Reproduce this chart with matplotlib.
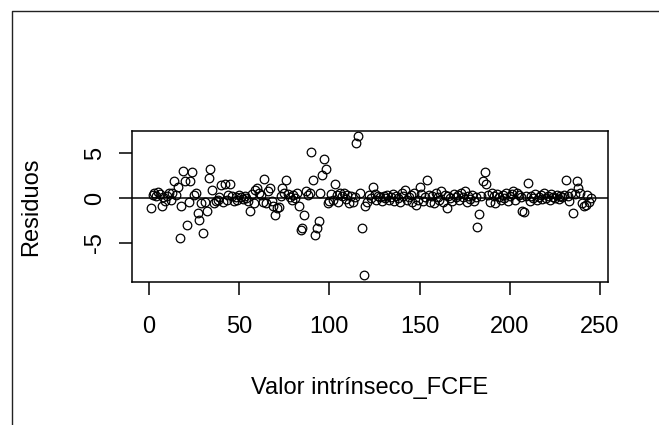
import numpy as np
import matplotlib.pyplot as plt
from matplotlib.lines import Line2D

plt.rcParams['font.family'] = ['Liberation Sans', 'DejaVu Sans']

# residuos, indice 1..245
residuos = [
    -1.1, 0.3, 0.6, 0.2, 0.7, 0.4, -0.9, 0.1, -0.3, 0.2,
    0.5, -0.2, 0.6, 1.9, 0.3, 1.2, -4.4, -0.85, 3.0, 1.85,
    -3.0, -0.4, 1.85, 2.9, 0.3, 0.55, -1.7, -2.4, -0.6, -3.9,
    -0.5, -1.4, 2.2, 3.2, 0.9, -0.6, -0.3, -0.2, 0.1, 1.4,
    -0.4, 1.6, -0.2, 0.3, 1.55, 0.2, -0.3, 0.1, -0.2, 0.3,
    0.1, -0.1, 0.2, 0.0, -0.3, -1.4, 0.4, -0.6, 0.9, 1.1,
    0.5, 0.3, -0.4, 2.1, -0.6, 0.8, 1.1, -0.3, -0.9, -1.9,
    -1.1, -1.0, 0.2, 1.1, 0.6, 1.95, 0.4, 0.1, -0.2, 0.3,
    0.0, 0.5, -0.9, -3.5, -3.3, -1.9, 0.8, 0.3, 0.6, 5.1,
    2.0, -4.1, -3.3, -2.6, 0.6, 2.5, 4.3, 3.2, -0.6, -0.3,
    0.4, -0.2, 1.5, 0.3, -0.5, 0.6, 0.2, 0.5, -0.1, 0.3,
    -0.6, 0.2, -0.4, 0.1, 6.1, 6.9, 0.6, -3.3, -8.6, -0.9,
    -0.5, 0.3, 0.0, 1.2, 0.4, -0.2, 0.2, 0.1, -0.3, 0.2,
    0.0, 0.3, -0.2, 0.1, 0.4, -0.3, 0.2, 0.0, -0.4, 0.5,
    0.2, 0.9, -0.2, 0.1, 0.3, -0.5, 0.6, -0.75, -0.2, 1.2,
    0.4, -0.3, 0.1, 2.0, 0.3, -0.4, 0.2, -0.6, 0.5, 0.1,
    -0.2, 0.8, -0.5, 0.3, -1.1, 0.2, 0.0, -0.3, 0.4, 0.1,
    0.3, -0.2, 0.5, 0.1, 0.75, -0.4, 0.2, -0.1, 0.3, -0.3,
    0.1, -3.2, -1.8, 0.2, 1.85, 2.9, 1.5, 0.3, -0.4, 0.6,
    0.2, -0.6, 0.4, 0.1, -0.2, 0.3, 0.0, 0.5, -0.3, 0.2,
    0.4, 0.8, -0.2, 0.6, 0.3, 0.1, -1.45, -1.55, 0.2, 1.7,
    -0.3, 0.2, 0.0, 0.4, -0.2, 0.1, 0.3, -0.1, 0.5, 0.0,
    0.2, -0.2, 0.4, 0.1, 0.0, 0.3, -0.1, 0.2, 0.1, 0.3,
    2.0, 0.2, -0.3, 0.5, -1.7, 0.4, 1.85, 1.1, 0.6, -0.6,
    -0.9, -0.8, 0.3, -0.4, 0.0,
]
indice = np.arange(1, len(residuos) + 1)

xticks = [0, 50, 100, 150, 200, 250]
yticks = [-5, 0, 5]

W, H = 659, 425
fig = plt.figure(figsize=(W / 100, H / 100), dpi=100)
ax = fig.add_axes([132 / W, 1 - 282 / H, (608 - 132) / W, (282 - 131) / H])

ax.plot(indice, residuos, 'o', mfc='none', mec='black', ms=6.2, mew=0.9)
ax.axhline(0, color='black', lw=1.1)

ax.set_xlim(-9.4, 254.4)
ax.set_ylim(-9.33, 7.44)
ax.set_xticks(xticks)
ax.set_yticks(yticks)
ax.set_yticklabels([str(v) for v in yticks], rotation=90, va='center')

for s in ax.spines.values():
    s.set_linewidth(1.1)
ax.tick_params(axis='both', labelsize=17, length=9.5, width=1.1, color='black')
ax.tick_params(axis='x', pad=15)
ax.tick_params(axis='y', pad=9)

ax.set_xlabel("Valor intrínseco_FCFE", fontsize=17, va='baseline')
ax.xaxis.set_label_coords(0.5, -(394 - 282) / 151)
ax.set_ylabel("Residuos", fontsize=17, va='center')
ax.yaxis.set_label_coords((31 - 132) / 476, 0.5)

# marco de la captura (solo arriba e izquierda)
fig.add_artist(Line2D([12 / W, 12 / W, 1.0], [0.0, 1 - 11 / H, 1 - 11 / H],
                      transform=fig.transFigure, color='#222222', lw=1.0))

fig.savefig("out.png", dpi=100)
